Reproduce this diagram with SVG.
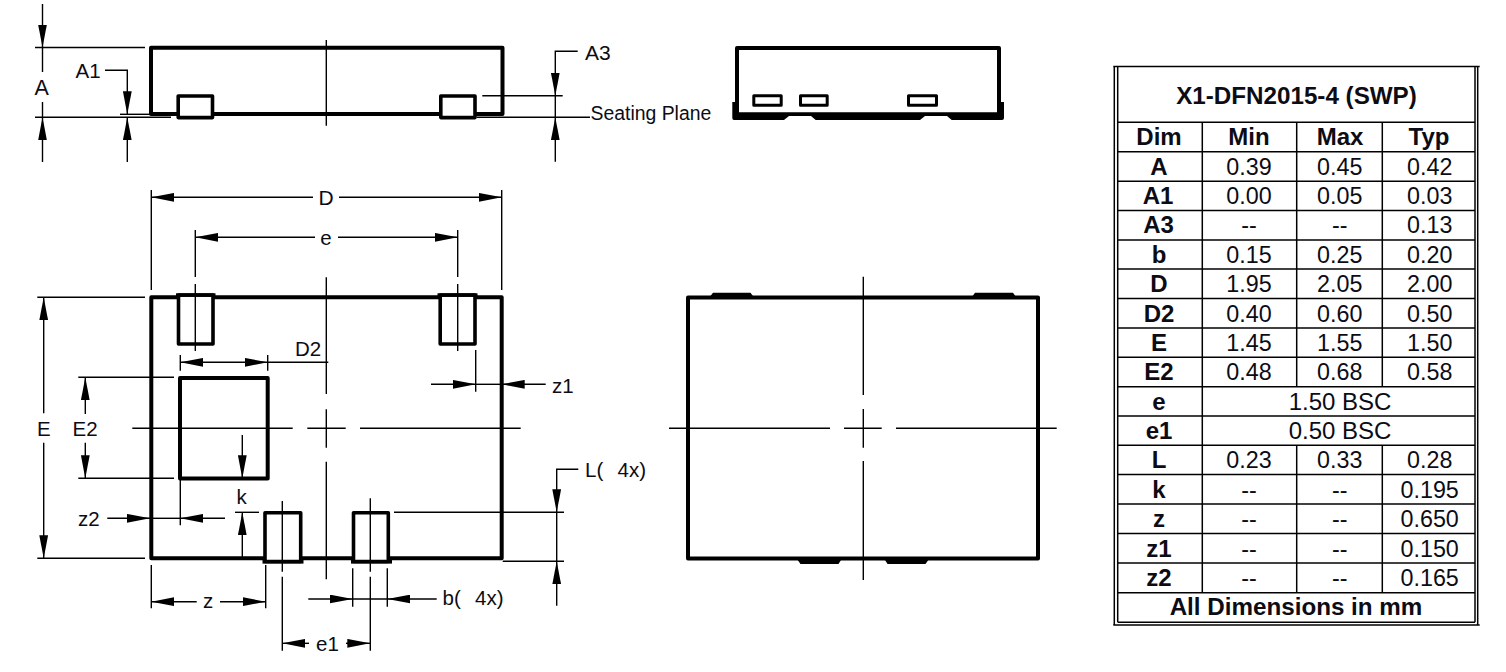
<svg xmlns="http://www.w3.org/2000/svg" width="1506" height="672" viewBox="0 0 1506 672">
<style>
text{font-family:"Liberation Sans",Arial,sans-serif;fill:#0c0c14}
.l{font-size:20.5px;white-space:pre}
.m{font-size:20.5px;text-anchor:middle}
.t{font-size:23.3px;text-anchor:middle}
.b{font-size:24px;font-weight:bold;text-anchor:middle}
.h{font-size:24.2px;font-weight:bold;text-anchor:middle}
.o{fill:none;stroke:#000;stroke-width:4;stroke-linejoin:round}
.p{fill:#fff;stroke:#000;stroke-width:3.6;stroke-linejoin:round}
.s{fill:#fff;stroke:#000;stroke-width:3;stroke-linejoin:round}
.k{fill:#000;stroke:none}
.d line,.d path{fill:none;stroke:#000;stroke-width:1.4}
.a{marker-end:url(#ah)}
.g line{stroke:#000;stroke-width:1.5}
</style>
<defs>
<marker id="ah" markerUnits="userSpaceOnUse" markerWidth="23" markerHeight="9" viewBox="0 0 22.5 8.6" refX="22.5" refY="4.3" orient="auto"><path d="M0 0L22.5 4.3L0 8.6Z" fill="#000"/></marker>
</defs>
<rect width="1506" height="672" fill="#fff"/>

<g id="side-view-left">
<path class="o" d="M151 114V47.7H502.5V114Z"/>
<rect class="p" x="178.2" y="96" width="34.3" height="21.6"/>
<rect class="p" x="440.8" y="96" width="34.2" height="21.6"/>
</g>

<g id="side-view-right">
<path class="k" d="M732.3 102H735V112.3H1001V102H1004V118Q1004 120 1002 120H951.7L947 116H925L920 120H815.7L811 116H789L784 120H734Q732.3 120 732.3 118Z"/>
<path class="o" d="M737 114V48H999V114"/>
<rect class="s" x="753.8" y="95.8" width="27.4" height="9.4"/>
<rect class="s" x="800.5" y="95.8" width="26.7" height="9.4"/>
<rect class="s" x="908.5" y="95.8" width="28" height="9.4"/>
</g>

<g id="top-view">
<path class="o" d="M151.3 297.3H501.7V558.3H151.3Z"/>
<rect class="p" x="178.5" y="295" width="34.5" height="49"/>
<rect class="k" x="176" y="293.3" width="39.5" height="3.6"/>
<rect class="p" x="440.2" y="295" width="34.8" height="49"/>
<rect class="k" x="437.5" y="293.3" width="40" height="3.6"/>
<rect class="o" x="180" y="378" width="87.7" height="100.5"/>
<rect class="p" x="265" y="512.7" width="35.7" height="48.8"/>
<rect class="k" x="262.5" y="560" width="41" height="3.6"/>
<rect class="p" x="353.5" y="512.7" width="34.8" height="48.8"/>
<rect class="k" x="351" y="560" width="41" height="3.6"/>
</g>

<g id="bottom-view">
<rect class="o" x="688" y="297.6" width="350" height="261"/>
<path class="k" d="M710 296.5L713 292.7H750.5L753.3 296.5ZM972.3 296.5L975 292.7H1013L1015.7 296.5ZM797.7 560L800.5 564H838.5L841 560ZM885 560L887.5 564H925.5L928.3 560Z"/>
</g>

<g id="connectors" class="d">
<!-- centre lines -->
<line x1="326.3" y1="40" x2="326.3" y2="125.7"/>
<line x1="326.3" y1="277.3" x2="326.3" y2="394"/>
<line x1="326.3" y1="409.3" x2="326.3" y2="447.7"/>
<line x1="326.3" y1="461.7" x2="326.3" y2="579.3"/>
<line x1="132.3" y1="428.3" x2="292.7" y2="428.3"/>
<line x1="307.3" y1="428.3" x2="345.7" y2="428.3"/>
<line x1="360" y1="428.3" x2="520.7" y2="428.3"/>
<line x1="863.3" y1="276.7" x2="863.3" y2="395"/>
<line x1="863.3" y1="409" x2="863.3" y2="447.7"/>
<line x1="863.3" y1="461" x2="863.3" y2="580"/>
<line x1="669" y1="428.3" x2="830" y2="428.3"/>
<line x1="844" y1="428.3" x2="881.7" y2="428.3"/>
<line x1="896" y1="428.3" x2="1056.7" y2="428.3"/>
<line x1="195.3" y1="230" x2="195.3" y2="277"/>
<line x1="195.3" y1="284" x2="195.3" y2="351"/>
<line x1="457.7" y1="230" x2="457.7" y2="277"/>
<line x1="457.7" y1="284" x2="457.7" y2="351"/>
<line x1="282.3" y1="501" x2="282.3" y2="571.7"/>
<line x1="282.3" y1="576.7" x2="282.3" y2="650.7"/>
<line x1="370.3" y1="498.3" x2="370.3" y2="571.7"/>
<line x1="370.3" y1="576.7" x2="370.3" y2="650.7"/>
<!-- A -->
<line x1="35" y1="47.5" x2="145" y2="47.5"/>
<line x1="35" y1="117.3" x2="171" y2="117.3"/>
<line class="a" x1="42.5" y1="4" x2="42.5" y2="47.5"/>
<line x1="42.5" y1="47.5" x2="42.5" y2="72"/>
<line class="a" x1="42.5" y1="162" x2="42.5" y2="117.3"/>
<line x1="42.5" y1="117.3" x2="42.5" y2="102"/>
<!-- A1 -->
<path class="a" d="M105 70.3H127.3V114.3"/>
<line class="a" x1="127.3" y1="162" x2="127.3" y2="117.3"/>
<line x1="120" y1="114.3" x2="150" y2="114.3"/>
<!-- A3 -->
<path class="a" d="M577.7 51.3H555.3V95.7"/>
<line x1="482.3" y1="95.7" x2="562.7" y2="95.7"/>
<line x1="476.7" y1="117.3" x2="590" y2="117.3"/>
<line x1="555.3" y1="95.7" x2="555.3" y2="117.3"/>
<line class="a" x1="555.3" y1="161.7" x2="555.3" y2="117.3"/>
<!-- D -->
<line x1="151.3" y1="190" x2="151.3" y2="290"/>
<line x1="501.7" y1="190" x2="501.7" y2="290"/>
<line class="a" x1="313" y1="197.3" x2="151.3" y2="197.3"/>
<line class="a" x1="339" y1="197.3" x2="501.7" y2="197.3"/>
<!-- e -->
<line class="a" x1="315" y1="237.3" x2="195.3" y2="237.3"/>
<line class="a" x1="338" y1="237.3" x2="457.7" y2="237.3"/>
<!-- D2 -->
<line x1="180.3" y1="355" x2="180.3" y2="370.7"/>
<line x1="267.7" y1="355" x2="267.7" y2="370.7"/>
<line class="a" x1="225" y1="362.3" x2="180.3" y2="362.3"/>
<line class="a" x1="225" y1="362.3" x2="267.7" y2="362.3"/>
<line x1="267.7" y1="362.3" x2="328.3" y2="362.3"/>
<!-- E -->
<line x1="37.3" y1="297.3" x2="145" y2="297.3"/>
<line x1="37.3" y1="558.3" x2="145" y2="558.3"/>
<line class="a" x1="43.7" y1="413.3" x2="43.7" y2="297.3"/>
<line class="a" x1="43.7" y1="442.7" x2="43.7" y2="558.3"/>
<!-- E2 -->
<line x1="78.3" y1="377.3" x2="174" y2="377.3"/>
<line x1="78.3" y1="478.3" x2="174" y2="478.3"/>
<line class="a" x1="85.3" y1="414" x2="85.3" y2="377.3"/>
<line class="a" x1="85.3" y1="442.7" x2="85.3" y2="478.3"/>
<!-- k -->
<line class="a" x1="242.3" y1="435" x2="242.3" y2="478.3"/>
<line class="a" x1="242.3" y1="558" x2="242.3" y2="512.3"/>
<line x1="235" y1="512.3" x2="259" y2="512.3"/>
<!-- z2 -->
<line class="a" x1="107.3" y1="518.3" x2="150" y2="518.3"/>
<line class="a" x1="225" y1="518.3" x2="180.3" y2="518.3"/>
<line x1="150" y1="518.3" x2="180.3" y2="518.3"/>
<line x1="180.3" y1="480" x2="180.3" y2="525.3"/>
<!-- z -->
<line x1="151.3" y1="565" x2="151.3" y2="608.3"/>
<line x1="265.7" y1="565" x2="265.7" y2="608.3"/>
<line class="a" x1="196.7" y1="601.7" x2="151.3" y2="601.7"/>
<line class="a" x1="220" y1="601.7" x2="265.7" y2="601.7"/>
<!-- b -->
<line x1="352.7" y1="568.3" x2="352.7" y2="606.7"/>
<line x1="387.3" y1="568.3" x2="387.3" y2="606.7"/>
<line class="a" x1="308.3" y1="599" x2="352.7" y2="599"/>
<line class="a" x1="436.7" y1="599" x2="387.3" y2="599"/>
<line x1="352.7" y1="599" x2="387.3" y2="599"/>
<!-- L -->
<path class="a" d="M578.3 469.3H556.7V512.3"/>
<line x1="394" y1="512.3" x2="564" y2="512.3"/>
<line x1="502.7" y1="561.3" x2="564" y2="561.3"/>
<line x1="556.7" y1="512.3" x2="556.7" y2="561.3"/>
<line class="a" x1="556.7" y1="605.7" x2="556.7" y2="561.3"/>
<!-- z1 -->
<line x1="475.7" y1="350" x2="475.7" y2="391.7"/>
<line class="a" x1="431" y1="384.3" x2="475.7" y2="384.3"/>
<line class="a" x1="545.7" y1="384.3" x2="501.7" y2="384.3"/>
<line x1="475.7" y1="384.3" x2="501.7" y2="384.3"/>
<!-- e1 -->
<line class="a" x1="309" y1="643.3" x2="282.3" y2="643.3"/>
<line class="a" x1="346" y1="643.3" x2="370.3" y2="643.3"/>
</g>

<g id="dimension-labels">
<text class="l" x="34.5" y="95" style="font-size:21.5px">A</text>
<text class="l" x="75.5" y="77.7">A1</text>
<text class="l" x="585" y="59.5" style="font-size:21px">A3</text>
<text class="l" x="590.5" y="120" style="font-size:19.4px">Seating Plane</text>
<text class="m" x="326" y="205" style="font-size:21px">D</text>
<text class="m" x="326" y="245">e</text>
<text class="l" x="295" y="355.7">D2</text>
<text class="l" x="37" y="435.7">E</text>
<text class="l" x="72.5" y="435.7">E2</text>
<text class="l" x="236.5" y="504">k</text>
<text class="l" x="78" y="526">z2</text>
<text class="l" x="203" y="608">z</text>
<text class="l" x="552" y="393.3">z1</text>
<text class="l" x="316" y="650.7">e1</text>
<text class="l" x="442.5" y="605" style="word-spacing:1.5px">b(  4x)</text>
<text class="l" x="585" y="476.7" style="word-spacing:1.5px">L(  4x)</text>
</g>

<g id="dimension-table">
<g class="g">
<line x1="1113.3" y1="66.5" x2="1479.7" y2="66.5"/>
<line x1="1113.3" y1="625" x2="1479.7" y2="625"/>
<line x1="1114.3" y1="66.5" x2="1114.3" y2="625"/>
<line x1="1477.7" y1="66.5" x2="1477.7" y2="625"/>
<line x1="1117.7" y1="66.5" x2="1117.7" y2="622.3"/>
<line x1="1475" y1="66.5" x2="1475" y2="622.3"/>
<line x1="1117.7" y1="622.3" x2="1475" y2="622.3"/>
<line x1="1117.7" y1="122.3" x2="1475" y2="122.3"/>
<line x1="1117.7" y1="151.7" x2="1475" y2="151.7"/>
<line x1="1117.7" y1="181.2" x2="1475" y2="181.2"/>
<line x1="1117.7" y1="210.5" x2="1475" y2="210.5"/>
<line x1="1117.7" y1="240" x2="1475" y2="240"/>
<line x1="1117.7" y1="269" x2="1475" y2="269"/>
<line x1="1117.7" y1="298.5" x2="1475" y2="298.5"/>
<line x1="1117.7" y1="328" x2="1475" y2="328"/>
<line x1="1117.7" y1="357.3" x2="1475" y2="357.3"/>
<line x1="1117.7" y1="386.7" x2="1475" y2="386.7"/>
<line x1="1117.7" y1="416" x2="1475" y2="416"/>
<line x1="1117.7" y1="445.3" x2="1475" y2="445.3"/>
<line x1="1117.7" y1="474.5" x2="1475" y2="474.5"/>
<line x1="1117.7" y1="504" x2="1475" y2="504"/>
<line x1="1117.7" y1="533.5" x2="1475" y2="533.5"/>
<line x1="1117.7" y1="563" x2="1475" y2="563"/>
<line x1="1117.7" y1="592.7" x2="1475" y2="592.7"/>
<line x1="1202.3" y1="122.3" x2="1202.3" y2="592.7"/>
<line x1="1296.7" y1="122.3" x2="1296.7" y2="386.7"/>
<line x1="1382.3" y1="122.3" x2="1382.3" y2="386.7"/>
<line x1="1296.7" y1="445.3" x2="1296.7" y2="592.7"/>
<line x1="1382.3" y1="445.3" x2="1382.3" y2="592.7"/>
</g>
<text class="h" x="1296.5" y="104">X1-DFN2015-4 (SWP)</text>
<text class="b" x="1159" y="145">Dim</text><text class="b" x="1249" y="145">Min</text><text class="b" x="1340" y="145">Max</text><text class="b" x="1429" y="145">Typ</text>
<text class="b" x="1159" y="175">A</text><text class="t" x="1249" y="175">0.39</text><text class="t" x="1339.7" y="175">0.45</text><text class="t" x="1429.7" y="175">0.42</text>
<text class="b" x="1158" y="203.7">A1</text><text class="t" x="1249" y="203.7">0.00</text><text class="t" x="1339.7" y="203.7">0.05</text><text class="t" x="1429.7" y="203.7">0.03</text>
<text class="b" x="1158.5" y="233.3">A3</text><text class="t" x="1249" y="233.3">--</text><text class="t" x="1339.7" y="233.3">--</text><text class="t" x="1429.7" y="233.3">0.13</text>
<text class="b" x="1159" y="262.7">b</text><text class="t" x="1249" y="262.7">0.15</text><text class="t" x="1339.7" y="262.7">0.25</text><text class="t" x="1429.7" y="262.7">0.20</text>
<text class="b" x="1159" y="292">D</text><text class="t" x="1249" y="292">1.95</text><text class="t" x="1339.7" y="292">2.05</text><text class="t" x="1429.7" y="292">2.00</text>
<text class="b" x="1159" y="321.5">D2</text><text class="t" x="1249" y="321.5">0.40</text><text class="t" x="1339.7" y="321.5">0.60</text><text class="t" x="1429.7" y="321.5">0.50</text>
<text class="b" x="1159" y="350.7">E</text><text class="t" x="1249" y="350.7">1.45</text><text class="t" x="1339.7" y="350.7">1.55</text><text class="t" x="1429.7" y="350.7">1.50</text>
<text class="b" x="1159" y="380">E2</text><text class="t" x="1249" y="380">0.48</text><text class="t" x="1339.7" y="380">0.68</text><text class="t" x="1429.7" y="380">0.58</text>
<text class="b" x="1159" y="409.5">e</text><text class="t" x="1340" y="409.5" style="font-size:24px">1.50 BSC</text>
<text class="b" x="1159" y="438.7">e1</text><text class="t" x="1340" y="438.7" style="font-size:24px">0.50 BSC</text>
<text class="b" x="1159" y="468">L</text><text class="t" x="1249" y="468">0.23</text><text class="t" x="1339.7" y="468">0.33</text><text class="t" x="1429.7" y="468">0.28</text>
<text class="b" x="1159" y="497.5">k</text><text class="t" x="1249" y="497.5">--</text><text class="t" x="1339.7" y="497.5">--</text><text class="t" x="1429.7" y="497.5">0.195</text>
<text class="b" x="1159" y="527">z</text><text class="t" x="1249" y="527">--</text><text class="t" x="1339.7" y="527">--</text><text class="t" x="1429.7" y="527">0.650</text>
<text class="b" x="1159" y="556.5">z1</text><text class="t" x="1249" y="556.5">--</text><text class="t" x="1339.7" y="556.5">--</text><text class="t" x="1429.7" y="556.5">0.150</text>
<text class="b" x="1159" y="585.5">z2</text><text class="t" x="1249" y="585.5">--</text><text class="t" x="1339.7" y="585.5">--</text><text class="t" x="1429.7" y="585.5">0.165</text>
<text class="h" x="1296" y="615">All Dimensions in mm</text>
</g>
</svg>
